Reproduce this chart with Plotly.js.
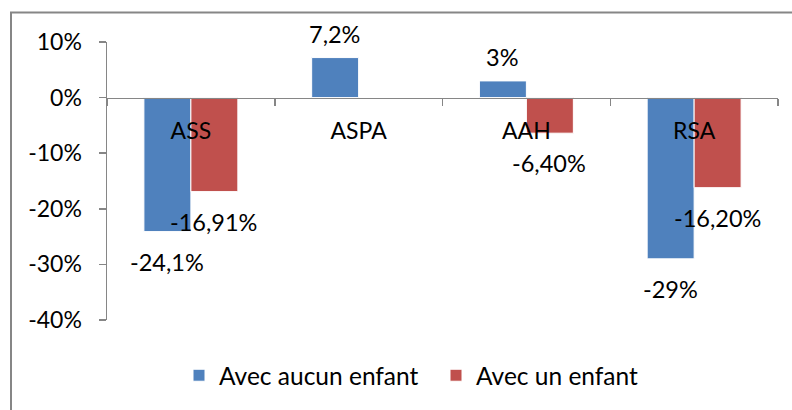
<!DOCTYPE html>
<html>
<head>
<meta charset="utf-8">
<script src="https://cdn.plot.ly/plotly-3.0.1.min.js"></script>
<style>html,body{margin:0;padding:0;background:#fff}#chart{width:792px;height:410px}</style>
</head>
<body>
<div id="chart"></div>
<script>
var categories = ["ASS", "ASPA", "AAH", "RSA"];
var seriesNames = ["Avec aucun enfant", "Avec un enfant"];
var aucunEnfant = [-24.1, 7.2, 3, -29];
var unEnfant = [-16.91, null, -6.40, -16.20];
var aucunLabels = ["-24,1%", "7,2%", "3%", "-29%"];
var unLabels = ["-16,91%", "", "-6,40%", "-16,20%"];
var yTickVals = [-40, -30, -20, -10, 0, 10];
var yTickText = ["-40%", "-30%", "-20%", "-10%", "0%", "10%"];

var FONT = "Lato, 'Open Sans', sans-serif";
var BLUE = "#4F81BD", RED = "#C0504D";

var traces = [
  {type: "bar", name: seriesNames[0], x: categories, y: aucunEnfant,
   marker: {color: BLUE, line: {color: "#ffffff", width: 1}}, hoverinfo: "none"},
  {type: "bar", name: seriesNames[1], x: categories, y: unEnfant,
   marker: {color: RED, line: {color: "#ffffff", width: 1}}, hoverinfo: "none"}
];

var annotations = [];
function addLabels(vals, labels, dx) {
  for (var i = 0; i < categories.length; i++) {
    if (vals[i] === null || labels[i] === "") continue;
    var pos = vals[i] >= 0;
    annotations.push({
      x: categories[i], y: vals[i], xref: "x", yref: "y",
      text: labels[i], showarrow: false,
      xshift: dx, yshift: pos ? 24 : -30,
      xanchor: "center", yanchor: "middle",
      font: {family: FONT, size: 23.5, color: "#000"}
    });
  }
}
addLabels(aucunEnfant, aucunLabels, -24);
addLabels(unEnfant, unLabels, 23);

var layout = {
  width: 792, height: 410,
  margin: {l: 107, r: 14, t: 42, b: 86},
  paper_bgcolor: "#fff", plot_bgcolor: "#fff",
  font: {family: FONT, size: 23, color: "#000"},
  barmode: "group", bargap: 0.44, bargroupgap: 0,
  showlegend: true,
  legend: {orientation: "h", x: (179 - 107) / 671, xanchor: "left", y: -0.199, yanchor: "middle",
           entrywidth: 212, entrywidthmode: "pixels",
           font: {family: FONT, size: 24.5, color: "#000"}, traceorder: "normal"},
  xaxis: {type: "category", anchor: "free", position: 0.8,
          showline: true, linecolor: "#868686", linewidth: 1.5,
          ticks: "outside", tickson: "boundaries", ticklen: 7, tickcolor: "#868686", tickwidth: 1.5,
          ticklabelstandoff: 12, showgrid: false, zeroline: false,
          tickfont: {family: FONT, size: 23, color: "#000"}},
  yaxis: {range: [-40, 10], tickmode: "array", tickvals: yTickVals, ticktext: yTickText,
          showline: true, linecolor: "#868686", linewidth: 1.5,
          ticks: "outside", ticklen: 7, tickcolor: "#868686", tickwidth: 1.5,
          ticklabelstandoff: 12, showgrid: false, zeroline: false,
          tickfont: {family: FONT, size: 23, color: "#000"}},
  annotations: annotations,
  shapes: [{type: "rect", xref: "paper", yref: "paper",
            x0: -96/671, x1: 1.03, y0: -0.33, y1: (324-12)/282,
            line: {color: "#868686", width: 2}, fillcolor: "rgba(0,0,0,0)", layer: "below"}]
};

Plotly.newPlot("chart", traces, layout, {staticPlot: true});
</script>
</body>
</html>
